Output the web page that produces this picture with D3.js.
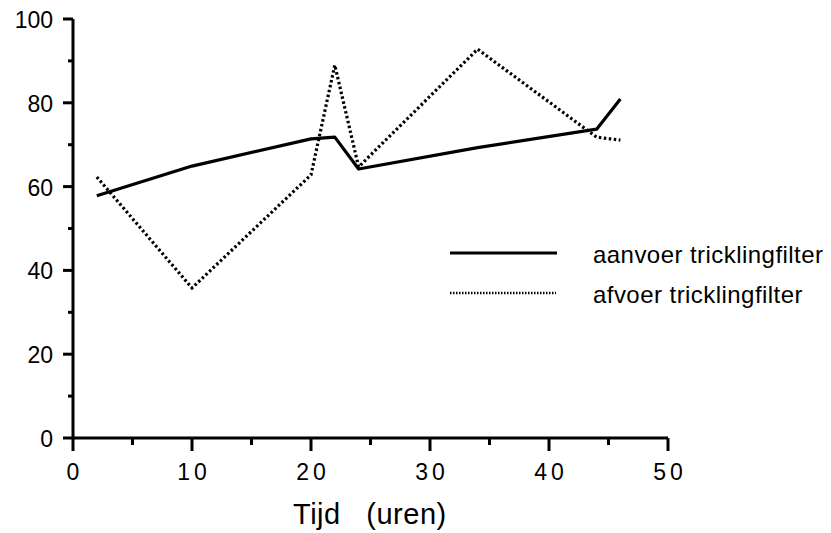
<!DOCTYPE html>
<html><head><meta charset="utf-8">
<script src="https://cdn.jsdelivr.net/npm/d3@7"></script>
<style>body{margin:0;background:#fff}svg{display:block}text{font-family:"Liberation Sans",Arial,sans-serif;fill:#000}</style>
</head><body><svg id="c" width="831" height="533"></svg>
<script>
const seriesNames = ["aanvoer tricklingfilter", "afvoer tricklingfilter"];
const aanvoerX = [2, 10, 20, 22, 24, 34, 44, 46];
const aanvoerY = [57.8, 64.9, 71.4, 71.8, 64.2, 69.3, 73.7, 80.9];
const afvoerX = [2, 10, 20, 22, 24, 34, 44, 46];
const afvoerY = [62.3, 35.8, 62.8, 89.0, 64.7, 92.8, 71.8, 71.1];
const xTicks = [0, 10, 20, 30, 40, 50];
const yTicks = [0, 20, 40, 60, 80, 100];
const xTitle = "Tijd   (uren)";

const svg = d3.select("#c");
const x = d3.scaleLinear().domain([0, 50]).range([73, 668]);
const y = d3.scaleLinear().domain([0, 100]).range([438, 19]);

// axes
const xAxis = svg.append("g").attr("transform", "translate(0,438)");
xAxis.append("line").attr("x1", x(0)).attr("x2", x(50)).attr("stroke", "#000").attr("stroke-width", 3);
xAxis.selectAll(".mj").data(xTicks).join("line").attr("x1", d => x(d)).attr("x2", d => x(d)).attr("y1", 0).attr("y2", 13).attr("stroke", "#000").attr("stroke-width", 3);
xAxis.selectAll(".mn").data(d3.range(5, 50, 10)).join("line").attr("x1", d => x(d)).attr("x2", d => x(d)).attr("y1", 0).attr("y2", 7).attr("stroke", "#000").attr("stroke-width", 3);
xAxis.selectAll("text").data(xTicks).join("text").attr("x", d => x(d) + (d ? 2 : 0)).attr("y", 42).attr("text-anchor", "middle").attr("font-size", 23).attr("letter-spacing", d => d ? "4px" : "0px").text(d => d);

const yAxis = svg.append("g");
yAxis.append("line").attr("x1", x(0)).attr("x2", x(0)).attr("y1", y(0) + 1.5).attr("y2", y(100)).attr("stroke", "#000").attr("stroke-width", 3);
yAxis.selectAll(".mj").data(yTicks).join("line").attr("x1", 63).attr("x2", x(0)).attr("y1", d => y(d)).attr("y2", d => y(d)).attr("stroke", "#000").attr("stroke-width", 3);
yAxis.selectAll(".mn").data(d3.range(10, 100, 20)).join("line").attr("x1", 68).attr("x2", x(0)).attr("y1", d => y(d)).attr("y2", d => y(d)).attr("stroke", "#000").attr("stroke-width", 3);
yAxis.selectAll("text").data(yTicks).join("text").attr("x", 53).attr("y", d => y(d) + 9).attr("text-anchor", "end").attr("font-size", 23).text(d => d);

svg.append("text").attr("x", 293).attr("y", 524).attr("font-size", 29).attr("letter-spacing", "0.5px").style("white-space", "pre").text(xTitle);

const line = d3.line().x(d => x(d[0])).y(d => y(d[1]));
svg.append("path").datum(aanvoerX.map((v, i) => [v, aanvoerY[i]])).attr("d", line).attr("fill", "none").attr("stroke", "#000").attr("stroke-width", 3.2).attr("stroke-linejoin", "round");
svg.append("path").datum(afvoerX.map((v, i) => [v, afvoerY[i]])).attr("d", line).attr("fill", "none").attr("stroke", "#000").attr("stroke-width", 3.2).attr("stroke-dasharray", "2.5,2.5");

// legend
const lg = svg.append("g");
lg.append("line").attr("x1", 450).attr("x2", 557).attr("y1", 253).attr("y2", 253).attr("stroke", "#000").attr("stroke-width", 3);
lg.append("line").attr("x1", 450).attr("x2", 556).attr("y1", 293).attr("y2", 293).attr("stroke", "#000").attr("stroke-width", 2.5).attr("stroke-dasharray", "1.5,1.5");
lg.selectAll("text").data(seriesNames).join("text").attr("x", 593).attr("y", (d, i) => 263 + i * 40).attr("font-size", 24).attr("letter-spacing", "0.45px").text(d => d);
</script></body></html>
